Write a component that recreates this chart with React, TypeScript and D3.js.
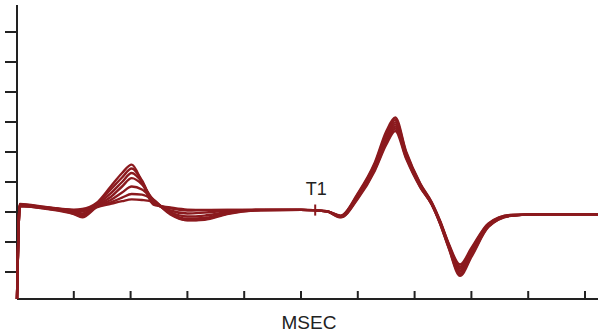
import React from "react";
import * as d3 from "d3";

const times = [0, 0.05, 0.5, 1.0, 1.15, 1.4, 1.65, 1.85, 2.02, 2.2, 2.4, 2.7, 3.0, 3.3, 3.7, 4.3, 5.0, 5.45, 5.7, 6.0, 6.3, 6.5, 6.66, 6.85, 7.1, 7.3, 7.45, 7.6, 7.8, 8.0, 8.3, 8.7, 9.2, 10.23];

const seriesA = [-2.9, 0.27, 0.17, 0.08, 0.1, 0.3, 0.85, 1.3, 1.58, 1.0, 0.25, 0.15, 0.08, 0.07, 0.07, 0.07, 0.07, 0.03, -0.12, 0.62, 1.65, 2.68, 3.15, 2.02, 0.95, 0.33, -0.3, -1.05, -1.75, -1.2, -0.38, -0.1, -0.08, -0.08];
const seriesB = [-2.9, 0.25, 0.16, 0.06, 0.06, 0.28, 0.75, 1.15, 1.45, 1.05, 0.3, 0.12, 0.05, 0.06, 0.07, 0.07, 0.07, 0.03, -0.13, 0.59, 1.6, 2.6, 3.07, 1.98, 0.93, 0.31, -0.32, -1.08, -1.82, -1.25, -0.4, -0.1, -0.08, -0.08];
const seriesC = [-2.9, 0.24, 0.15, 0.05, 0.02, 0.25, 0.62, 1.0, 1.3, 1.0, 0.35, 0.05, -0.05, -0.02, 0.04, 0.07, 0.07, 0.03, -0.14, 0.56, 1.55, 2.52, 2.99, 1.95, 0.9, 0.3, -0.33, -1.1, -1.88, -1.3, -0.42, -0.11, -0.08, -0.08];
const seriesD = [-2.9, 0.22, 0.14, 0.02, -0.05, 0.22, 0.5, 0.85, 1.13, 0.92, 0.4, 0.0, -0.15, -0.12, 0.0, 0.07, 0.07, 0.02, -0.15, 0.53, 1.5, 2.45, 2.92, 1.9, 0.88, 0.28, -0.35, -1.12, -1.95, -1.35, -0.44, -0.11, -0.08, -0.08];
const seriesE = [-2.9, 0.21, 0.13, -0.02, -0.1, 0.2, 0.4, 0.65, 0.85, 0.75, 0.42, -0.05, -0.22, -0.2, -0.03, 0.07, 0.07, 0.02, -0.16, 0.5, 1.46, 2.38, 2.85, 1.86, 0.86, 0.27, -0.37, -1.15, -2.0, -1.4, -0.46, -0.12, -0.08, -0.08];
const seriesF = [-2.9, 0.2, 0.12, -0.05, -0.15, 0.18, 0.32, 0.48, 0.6, 0.58, 0.4, -0.08, -0.27, -0.24, -0.05, 0.06, 0.07, 0.02, -0.17, 0.47, 1.42, 2.31, 2.78, 1.82, 0.84, 0.26, -0.39, -1.18, -2.07, -1.45, -0.48, -0.12, -0.08, -0.08];
const seriesG = [-2.9, 0.2, 0.11, -0.07, -0.18, 0.15, 0.27, 0.36, 0.42, 0.4, 0.33, -0.05, -0.28, -0.26, -0.07, 0.06, 0.07, 0.02, -0.18, 0.44, 1.38, 2.24, 2.7, 1.78, 0.82, 0.25, -0.4, -1.2, -2.13, -1.5, -0.5, -0.13, -0.08, -0.08];

const allSeries = [seriesA, seriesB, seriesC, seriesD, seriesE, seriesF, seriesG];

const xTicks = [1, 2, 3, 4, 5, 6, 7, 8, 9, 10];
const yTicks = [-2, -1, 0, 1, 2, 3, 4, 5, 6];
const markerT1 = 5.25;
const xLabel = "MSEC";
const markerLabel = "T1";

const W = 598;
const H = 333;

export default function App() {
  const x = d3.scaleLinear().domain([0, 10]).range([17, 585]);
  const y = d3.scaleLinear().domain([0, 1]).range([212, 182]);
  const yMinPix = 299;
  const line = d3
    .line<[number, number]>()
    .x((d) => x(d[0]))
    .y((d) => y(d[1]))
    .curve(d3.curveMonotoneX);
  const color = "#8b1a1e";
  const axisColor = "#222";
  return (
    <svg width={W} height={H} style={{ position: "absolute", left: 0, top: 0, background: "#fff" }}>
      <line x1={x(0)} x2={x(0)} y1={5} y2={yMinPix} stroke={axisColor} strokeWidth={2} />
      <line x1={x(0)} x2={W} y1={yMinPix} y2={yMinPix} stroke={axisColor} strokeWidth={2} />
      {yTicks.map((t) => (
        <line key={"y" + t} x1={5} x2={x(0)} y1={y(t)} y2={y(t)} stroke={axisColor} strokeWidth={2} />
      ))}
      {xTicks.map((t) => (
        <line key={"x" + t} x1={x(t)} x2={x(t)} y1={yMinPix} y2={yMinPix - 8} stroke={axisColor} strokeWidth={2} />
      ))}
      {allSeries.map((s, i) => (
        <path
          key={i}
          d={line(times.map((t, j) => [t, s[j]] as [number, number])) || ""}
          fill="none"
          stroke={color}
          strokeWidth={2.4}
          strokeLinejoin="round"
        />
      ))}
      <line x1={x(markerT1)} x2={x(markerT1)} y1={y(0.25)} y2={y(-0.12)} stroke={color} strokeWidth={2} />
      <text x={x(markerT1) + 1} y={195} fontFamily="Liberation Sans, Arial, sans-serif" fontSize={18} textAnchor="middle" fill="#222">
        {markerLabel}
      </text>
      <text x={309} y={329} fontFamily="Liberation Sans, Arial, sans-serif" fontSize={19} textAnchor="middle" fill="#222">
        {xLabel}
      </text>
    </svg>
  );
}
